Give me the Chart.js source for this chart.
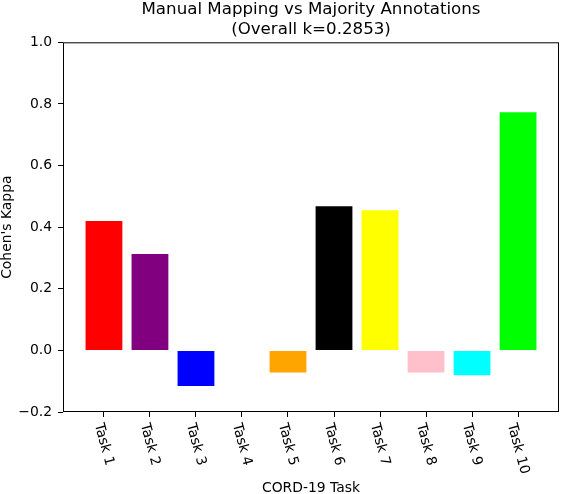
<!DOCTYPE html>
<html><head><meta charset="utf-8">
<script src="https://cdn.jsdelivr.net/npm/chart.js@4/dist/chart.umd.min.js"></script>
<style>html,body{margin:0;padding:0;background:#fff;overflow:hidden;} #wrap{width:562px;height:494px;position:relative;}</style>
</head><body><div id="wrap"><canvas id="c" width="562" height="494"></canvas></div>
<script>
const categories = ['Task 1','Task 2','Task 3','Task 4','Task 5','Task 6','Task 7','Task 8','Task 9','Task 10'];
const kappaValues = [0.42, 0.3125, -0.116, 0, -0.0715, 0.468, 0.455, -0.0715, -0.081, 0.773];
const barColors = ['red','purple','blue','green','orange','black','yellow','pink','cyan','lime'];
const yTickValues = [-0.2, 0.0, 0.2, 0.4, 0.6, 0.8, 1.0];
const titleLines = ['Manual Mapping vs Majority Annotations', '(Overall k=0.2853)'];
const xAxisTitle = 'CORD-19 Task';
const yAxisTitle = "Cohen's Kappa";

Chart.defaults.font.family = '"DejaVu Sans", sans-serif';
Chart.defaults.color = '#000';

const n = categories.length;
const margin = 0.05 * (n - 1 + 0.8);

const framePlugin = {
  id: 'frameAndLabels',
  afterDraw(chart) {
    const ctx = chart.ctx, a = chart.chartArea, xs = chart.scales.x;
    ctx.save();
    ctx.strokeStyle = '#000';
    ctx.lineWidth = 1;
    ctx.strokeRect(a.left + 0.5, a.top + 0.5, a.right - a.left - 1, a.bottom - a.top - 1);
    const fs = 13.9, ang = 75 * Math.PI / 180;
    ctx.font = fs + 'px "DejaVu Sans"';
    ctx.fillStyle = '#000';
    categories.forEach((lab, i) => {
      const w = ctx.measureText(lab).width, h = 0.98 * fs, d = 0.22 * fs;
      const H = w * Math.sin(ang) + h * Math.cos(ang);
      const cx = xs.getPixelForValue(i + 1), cy = a.bottom + 9.7 + H / 2;
      ctx.save();
      ctx.translate(cx, cy);
      ctx.rotate(ang);
      ctx.textAlign = 'center';
      ctx.textBaseline = 'alphabetic';
      ctx.fillText(lab, 0, h / 2 - d);
      ctx.restore();
    });
    ctx.restore();
  }
};

new Chart(document.getElementById('c'), {
  type: 'bar',
  data: {
    datasets: [{
      data: categories.map((c, i) => ({ x: i + 1, y: kappaValues[i] })),
      backgroundColor: barColors,
      borderWidth: 0,
      barPercentage: 0.8,
      categoryPercentage: 1.0
    }]
  },
  options: {
    responsive: false,
    animation: false,
    devicePixelRatio: 1,
    layout: { padding: { left: 0, right: 3, top: 0, bottom: 0 } },
    plugins: {
      legend: { display: false },
      tooltip: { enabled: false },
      title: {
        display: true,
        fullSize: false,
        text: titleLines,
        color: '#000',
        font: { size: 16.67, weight: 'normal', lineHeight: 1.17 },
        padding: { top: 0, bottom: 3.3 }
      }
    },
    scales: {
      x: {
        type: 'linear',
        position: 'bottom',
        offset: false,
        min: 1 - 0.4 - margin,
        max: n + 0.4 + margin,
        afterBuildTicks(scale) { scale.ticks = categories.map((c, i) => ({ value: i + 1 })); },
        afterFit(scale) { scale.height = 82; },
        ticks: { display: false },
        grid: { display: true, drawOnChartArea: false, drawTicks: true, tickLength: 5, color: '#000', offset: false },
        border: { display: false },
        title: { display: true, text: xAxisTitle, font: { size: 13.9, lineHeight: 1.0 }, padding: { top: 0, bottom: -1.5 }, color: '#000' }
      },
      y: {
        type: 'linear',
        min: -0.2,
        max: 1.0,
        afterBuildTicks(scale) { scale.ticks = yTickValues.map(v => ({ value: v })); },
        afterFit(scale) { scale.width = 63; },
        ticks: {
          font: { size: 13.9 },
          padding: 6,
          callback: v => (v < 0 ? '\u2212' + Math.abs(v).toFixed(1) : v.toFixed(1))
        },
        grid: { display: true, drawOnChartArea: false, drawTicks: true, tickLength: 5, color: '#000' },
        border: { display: false },
        title: { display: true, text: yAxisTitle, font: { size: 13.9, lineHeight: 1.0 }, padding: { top: 0, bottom: 0 }, color: '#000' }
      }
    }
  },
  plugins: [framePlugin]
});
</script></body></html>
